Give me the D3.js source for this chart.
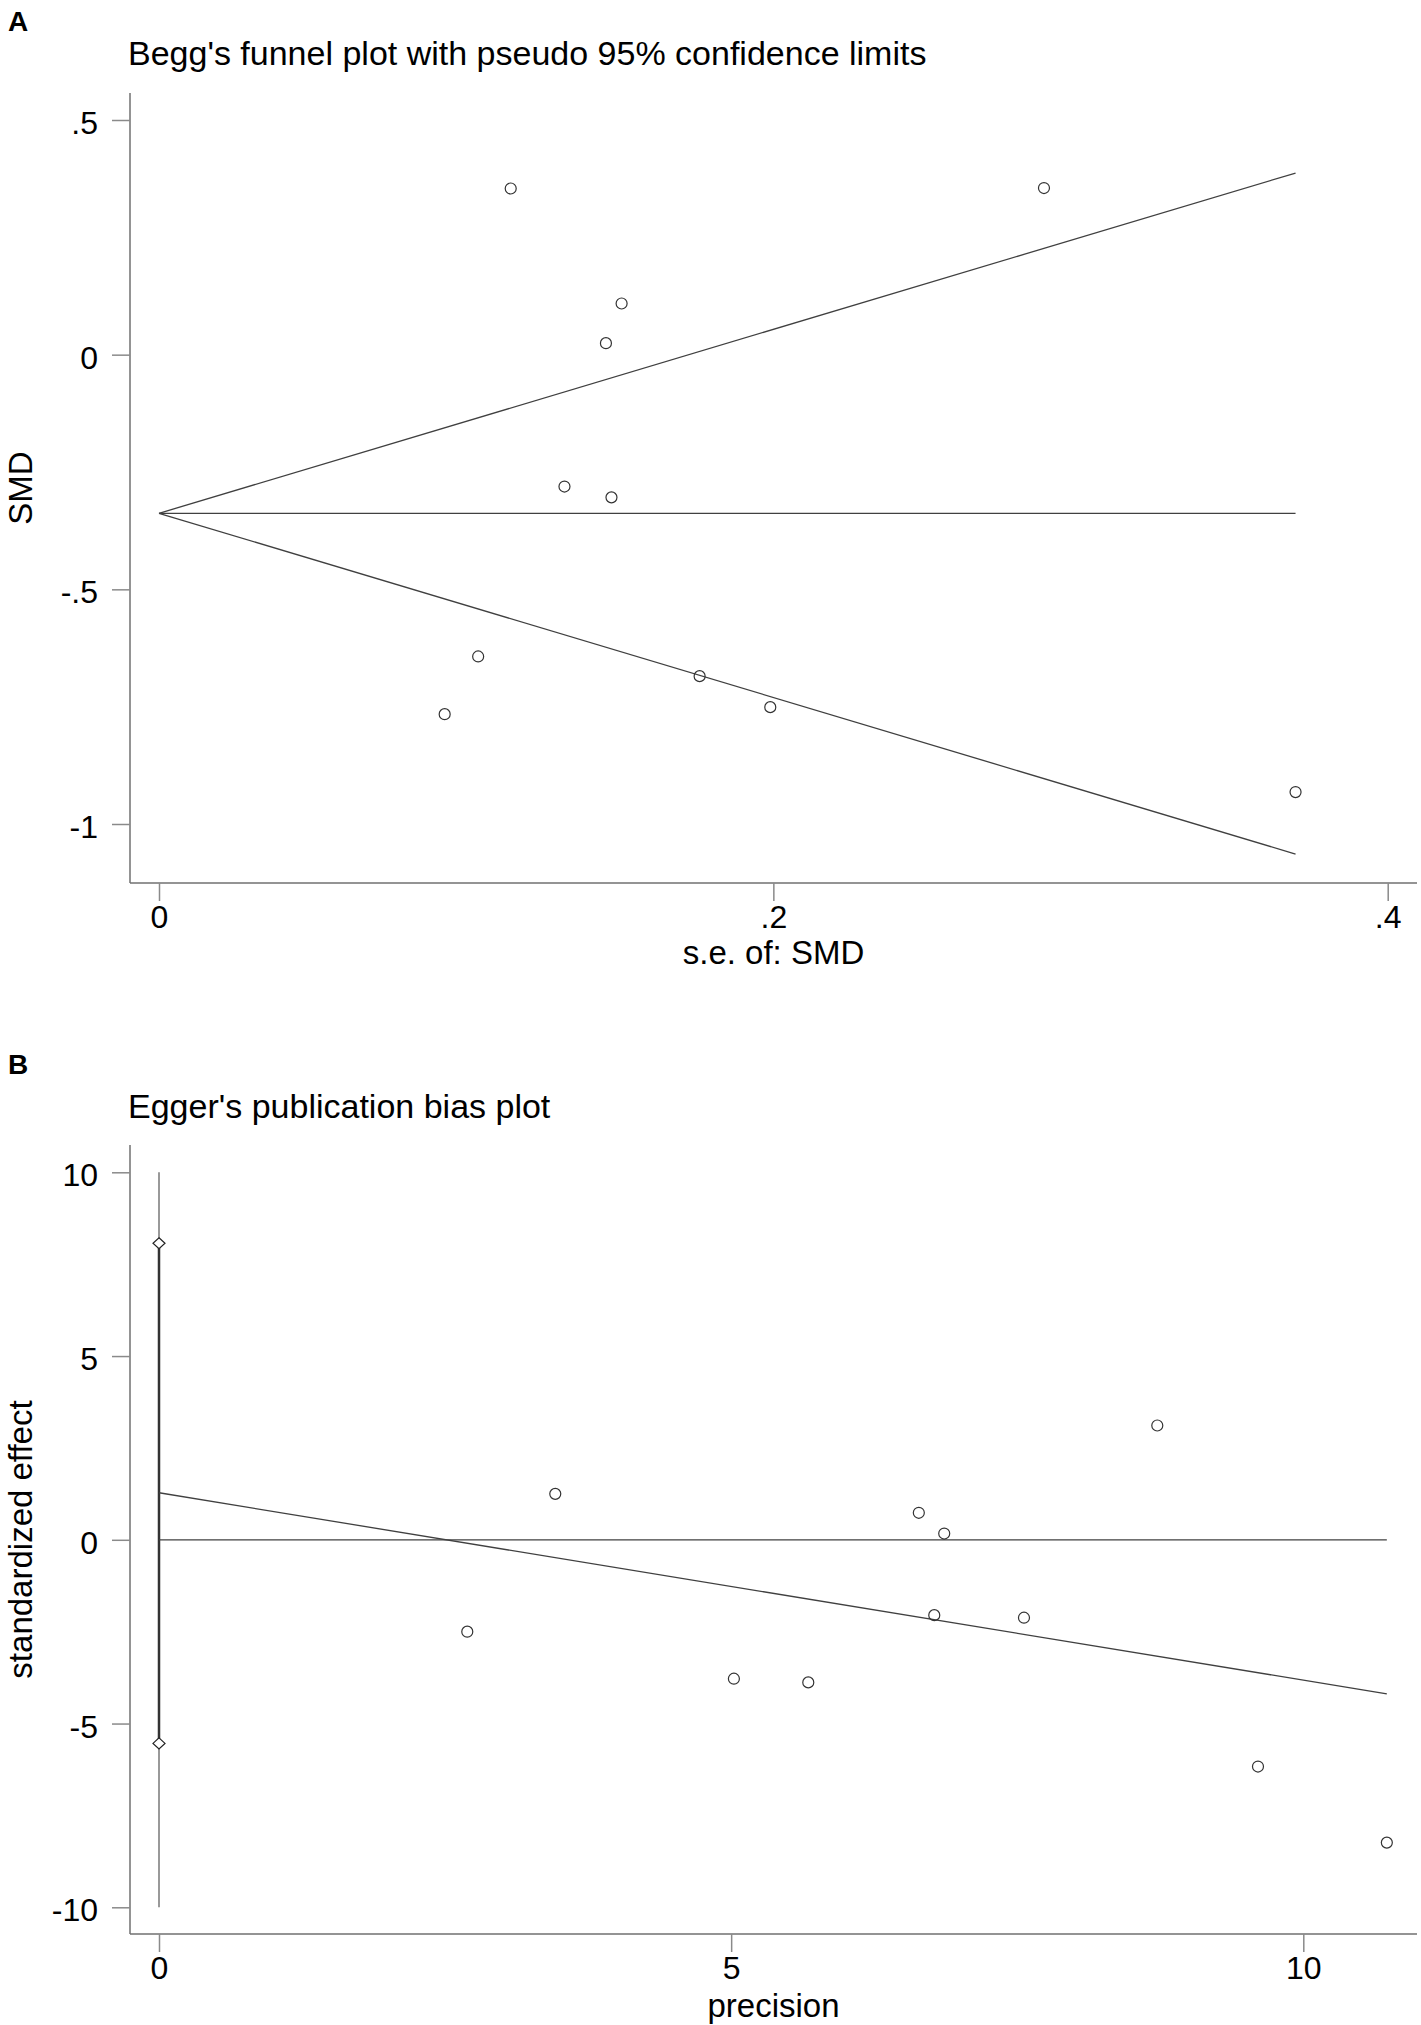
<!DOCTYPE html>
<html>
<head>
<meta charset="utf-8">
<script src="https://cdn.jsdelivr.net/npm/d3@7"></script>
<style>
  body { margin: 0; background: #fff; }
  svg { display: block; }
  text { font-family: "Liberation Sans", Arial, Helvetica, sans-serif; fill: #000; }
</style>
</head>
<body>
<svg id="chart" width="1421" height="2025"></svg>
<script>
// ---------- Panel A: Begg's funnel plot ----------
const beggSE  = [0.1145, 0.2881, 0.1506, 0.1455, 0.1320, 0.1473, 0.1039, 0.0930, 0.1760, 0.1990, 0.3700];
const beggSMD = [0.354, 0.355, 0.109, 0.0245, -0.281, -0.304, -0.643, -0.766, -0.685, -0.751, -0.932];
const funnelSE     = [0, 0.370];
const funnelCenter = [-0.338, -0.338];
const funnelUpper  = [-0.338, 0.387];
const funnelLower  = [-0.338, -1.064];
const beggXTicks = [0, 0.2, 0.4];
const beggXTickLabels = ["0", ".2", ".4"];
const beggYTicks = [0.5, 0, -0.5, -1];
const beggYTickLabels = [".5", "0", "-.5", "-1"];

// ---------- Panel B: Egger's publication bias plot ----------
const eggerPrecision = [2.694, 3.463, 5.024, 5.674, 6.640, 6.775, 6.862, 7.559, 8.724, 9.604, 10.73];
const eggerStdEffect = [-2.50, 1.25, -3.78, -3.88, 0.735, -2.05, 0.17, -2.12, 3.11, -6.17, -8.24];
const eggerLineX = [0, 10.73];
const eggerLineY = [1.28, -4.19];
const zeroLineX = [0, 10.73];
const zeroLineY = [0, 0];
const interceptRange = [-10, 10];
const interceptCI = [8.07, -5.54];
const eggerXTicks = [0, 5, 10];
const eggerXTickLabels = ["0", "5", "10"];
const eggerYTicks = [10, 5, 0, -5, -10];
const eggerYTickLabels = ["10", "5", "0", "-5", "-10"];

const svg = d3.select("#chart");
const axisColor = "#707070";
const tickColor = "#8a8a8a";
const lineColor = "#404040";
const markColor = "#333333";

function drawPanel(g, cfg) {
  const x = cfg.x, y = cfg.y;
  g.append("line").attr("x1", cfg.left).attr("x2", cfg.left)
    .attr("y1", cfg.top).attr("y2", cfg.bottom)
    .attr("stroke", axisColor).attr("stroke-width", 1.5);
  g.append("line").attr("x1", cfg.left).attr("x2", cfg.right)
    .attr("y1", cfg.bottom).attr("y2", cfg.bottom)
    .attr("stroke", axisColor).attr("stroke-width", 1.5);

  const yAxis = d3.axisLeft(y).tickValues(cfg.yTicks)
    .tickFormat((d, i) => cfg.yTickLabels[i]).tickSize(18).tickPadding(14);
  const ya = g.append("g").attr("transform", `translate(${cfg.left},0)`).call(yAxis);
  ya.select(".domain").remove();
  ya.selectAll(".tick line").attr("stroke", tickColor).attr("stroke-width", 1.5);
  ya.selectAll(".tick text").attr("font-size", 32).attr("font-family", null)
    .attr("dy", "0.42em").attr("fill", "#000");

  const xAxis = d3.axisBottom(x).tickValues(cfg.xTicks)
    .tickFormat((d, i) => cfg.xTickLabels[i]).tickSize(18).tickPadding(4);
  const xa = g.append("g").attr("transform", `translate(0,${cfg.bottom})`).call(xAxis);
  xa.select(".domain").remove();
  xa.selectAll(".tick line").attr("stroke", tickColor).attr("stroke-width", 1.5);
  xa.selectAll(".tick text").attr("font-size", 32).attr("font-family", null)
    .attr("dy", "0.71em").attr("fill", "#000");

  g.append("text").attr("x", 8).attr("y", cfg.letterY)
    .attr("font-size", 28).attr("font-weight", "bold").text(cfg.letter);
  g.append("text").attr("x", 128).attr("y", cfg.titleY)
    .attr("font-size", 34).text(cfg.title);
  g.append("text").attr("x", (cfg.left + cfg.right) / 2).attr("y", cfg.xLabelY)
    .attr("text-anchor", "middle").attr("font-size", 33).text(cfg.xLabel);
  g.append("text")
    .attr("transform", `translate(32,${(cfg.top + cfg.bottom) / 2}) rotate(-90)`)
    .attr("text-anchor", "middle").attr("font-size", 33).text(cfg.yLabel);
}

// ----- Panel A -----
const xA = d3.scaleLinear().domain([0, 0.4]).range([159, 1387.7]);
const yA = d3.scaleLinear().domain([-1, 0.5]).range([824, 120]);
const gA = svg.append("g");
drawPanel(gA, {
  x: xA, y: yA, left: 130, right: 1417, top: 93, bottom: 883,
  yTicks: beggYTicks, yTickLabels: beggYTickLabels,
  xTicks: beggXTicks, xTickLabels: beggXTickLabels,
  letter: "A", letterY: 31, title: "Begg's funnel plot with pseudo 95% confidence limits", titleY: 65,
  xLabel: "s.e. of: SMD", xLabelY: 964, yLabel: "SMD"
});
const lineA = d3.line().x(d => xA(d[0])).y(d => yA(d[1]));
[funnelCenter, funnelUpper, funnelLower].forEach(arr => {
  gA.append("path").attr("d", lineA(funnelSE.map((s, i) => [s, arr[i]])))
    .attr("fill", "none").attr("stroke", lineColor).attr("stroke-width", 1.3);
});
gA.selectAll("circle.pt").data(beggSE.map((s, i) => [s, beggSMD[i]])).enter()
  .append("circle").attr("class", "pt")
  .attr("cx", d => xA(d[0])).attr("cy", d => yA(d[1])).attr("r", 5.5)
  .attr("fill", "none").attr("stroke", markColor).attr("stroke-width", 1.2);

// ----- Panel B -----
const xB = d3.scaleLinear().domain([0, 10]).range([159, 1303.3]);
const yB = d3.scaleLinear().domain([-10, 10]).range([1907.3, 1172.3]);
const gB = svg.append("g");
drawPanel(gB, {
  x: xB, y: yB, left: 130, right: 1417, top: 1145, bottom: 1934,
  yTicks: eggerYTicks, yTickLabels: eggerYTickLabels,
  xTicks: eggerXTicks, xTickLabels: eggerXTickLabels,
  letter: "B", letterY: 1074, title: "Egger's publication bias plot", titleY: 1118,
  xLabel: "precision", xLabelY: 2017, yLabel: "standardized effect"
});
const lineB = d3.line().x(d => xB(d[0])).y(d => yB(d[1]));
gB.append("line").attr("x1", xB(0)).attr("x2", xB(0))
  .attr("y1", yB(interceptRange[0])).attr("y2", yB(interceptRange[1]))
  .attr("stroke", "#777").attr("stroke-width", 1.5);
gB.append("line").attr("x1", xB(0)).attr("x2", xB(0))
  .attr("y1", yB(interceptCI[0])).attr("y2", yB(interceptCI[1]))
  .attr("stroke", "#333").attr("stroke-width", 2.5);
gB.append("path").attr("d", lineB(zeroLineX.map((v, i) => [v, zeroLineY[i]])))
  .attr("fill", "none").attr("stroke", lineColor).attr("stroke-width", 1.3);
gB.append("path").attr("d", lineB(eggerLineX.map((v, i) => [v, eggerLineY[i]])))
  .attr("fill", "none").attr("stroke", lineColor).attr("stroke-width", 1.3);
const diamond = "M0,-5.5L6,0L0,5.5L-6,0Z";
gB.selectAll("path.dia").data(interceptCI).enter().append("path").attr("class", "dia")
  .attr("d", diamond).attr("transform", d => `translate(${xB(0)},${yB(d)})`)
  .attr("fill", "#fff").attr("stroke", "#222").attr("stroke-width", 1.2);
gB.selectAll("circle.pt").data(eggerPrecision.map((p, i) => [p, eggerStdEffect[i]])).enter()
  .append("circle").attr("class", "pt")
  .attr("cx", d => xB(d[0])).attr("cy", d => yB(d[1])).attr("r", 5.5)
  .attr("fill", "none").attr("stroke", markColor).attr("stroke-width", 1.2);
</script>
</body>
</html>
